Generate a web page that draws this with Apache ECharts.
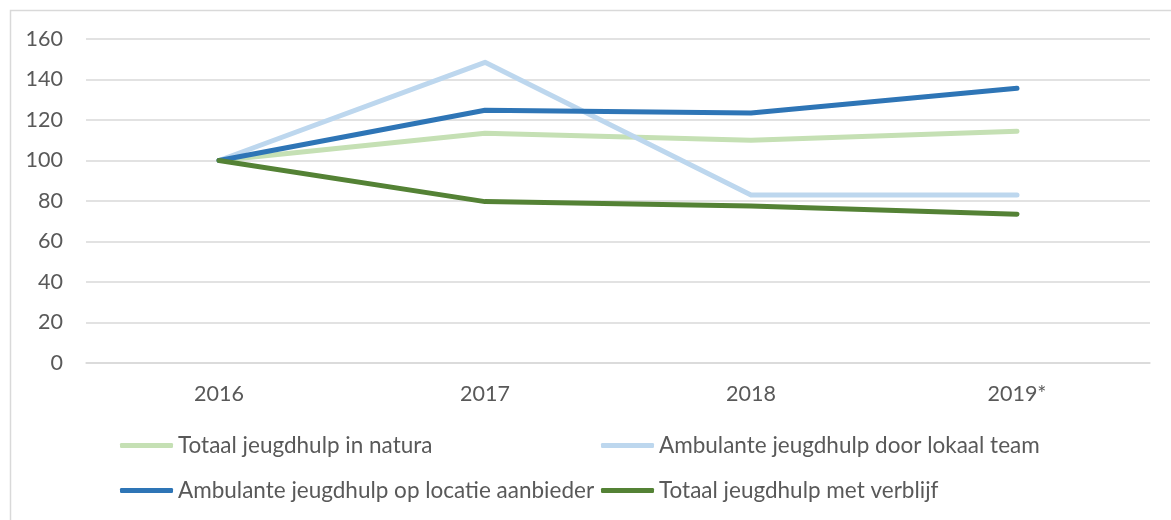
<!DOCTYPE html>
<html>
<head>
<meta charset="utf-8">
<script src="https://cdn.jsdelivr.net/npm/echarts@6/dist/echarts.min.js"></script>
<style>
  html, body { margin: 0; padding: 0; background: #fff; }
  #chart { width: 1171px; height: 520px; }
</style>
</head>
<body>
<div id="chart"></div>
<script>
// Index of youth care use (2016 = 100)
const years = ['2016', '2017', '2018', '2019*'];
const yTicks = [0, 20, 40, 60, 80, 100, 120, 140, 160];

const natura   = [100, 113.5, 110, 114.5];
const lokaal   = [100, 148.5, 83, 83];
const locatie  = [100, 124.8, 123.5, 135.7];
const verblijf = [100, 79.7, 77.5, 73.5];

const seriesNames = [
  'Totaal jeugdhulp in natura',
  'Ambulante jeugdhulp door lokaal team',
  'Ambulante jeugdhulp op locatie aanbieder',
  'Totaal jeugdhulp met verblijf'
];
const seriesData = [natura, lokaal, locatie, verblijf];
const colors = ['#C5E0B4', '#BDD7EE', '#2E75B6', '#548235'];

const font = 'Lato, "Noto Sans", sans-serif';
const textColor = '#595959';

const chart = echarts.init(document.getElementById('chart'), null, { renderer: 'canvas' });

const legendPos = [
  { left: 120, top: 434 },
  { left: 601, top: 434 },
  { left: 120, top: 479 },
  { left: 601, top: 479 }
];

chart.setOption({
  animation: false,
  backgroundColor: '#fff',
  color: colors,
  graphic: [{
    type: 'rect',
    shape: { x: 10.5, y: 10.5, width: 1200, height: 600 },
    style: { fill: 'none', stroke: '#d9d9d9', lineWidth: 1.5 },
    silent: true
  }],
  grid: { left: 86, right: 21, top: 39, bottom: 157 },
  legend: seriesNames.map((name, i) => ({
    data: [name],
    left: legendPos[i].left,
    top: legendPos[i].top,
    icon: 'roundRect',
    itemWidth: 53,
    itemHeight: 5,
    itemGap: 0,
    textStyle: { fontFamily: font, fontSize: 22.5, color: textColor, padding: [0, 0, 0, 0] },
    padding: 0
  })),
  xAxis: {
    type: 'category',
    data: years,
    boundaryGap: true,
    axisLine: { show: true, lineStyle: { color: '#d9d9d9', width: 1.5 } },
    axisTick: { show: false },
    axisLabel: { fontFamily: font, fontSize: 21.5, color: textColor, margin: 20 }
  },
  yAxis: {
    type: 'value',
    min: yTicks[0],
    max: yTicks[yTicks.length - 1],
    interval: 20,
    axisLine: { show: false },
    axisTick: { show: false },
    splitLine: { lineStyle: { color: '#d9d9d9', width: 1.5 } },
    axisLabel: { fontFamily: font, fontSize: 21.5, color: textColor, margin: 23 }
  },
  series: seriesNames.map((name, i) => ({
    name: name,
    type: 'line',
    data: seriesData[i],
    symbol: 'none',
    lineStyle: { width: 5, color: colors[i], cap: 'round', join: 'round' },
    itemStyle: { color: colors[i] }
  }))
});
</script>
</body>
</html>
